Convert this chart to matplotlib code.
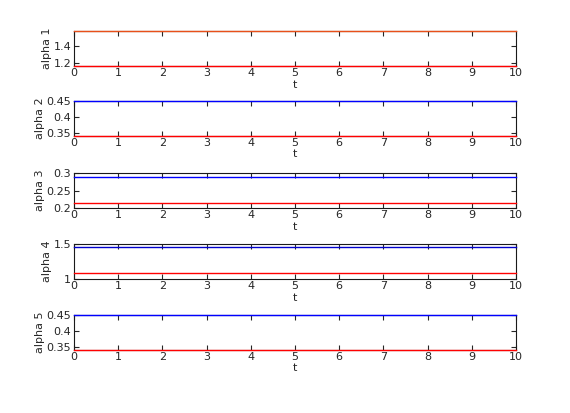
""" plot.py -- five stacked alpha(t) panels, MATLAB look """
import matplotlib
matplotlib.use("Agg")
import matplotlib.pyplot as plt

t = [0, 10]

# upper and lower level of every alpha, constant over t
alpha_upper = [1.57, 0.4488, 0.2884, 1.462, 0.4488]
alpha_lower = [1.17, 0.3425, 0.2157, 1.094, 0.3425]
upper_colors = ["#e8501a", "blue", "blue", "#0000cc", "blue"]

y_limits = [(1.17, 1.57), (0.3425, 0.4488), (0.2, 0.3), (1.0, 1.5), (0.3425, 0.4488)]
y_ticks = [[1.2, 1.4], [0.35, 0.4, 0.45], [0.2, 0.25, 0.3], [1, 1.5], [0.35, 0.4, 0.45]]
y_ticklabels = [["1.2", "1.4"], ["0.35", "0.4", "0.45"], ["0.2", "0.25", "0.3"],
                ["1", "1.5"], ["0.35", "0.4", "0.45"]]
x_ticks = list(range(0, 11))

fig = plt.figure(figsize=(5.7, 4.13), dpi=100)
bottoms = [0.840, 0.671, 0.496, 0.324, 0.153]
txt = "#262626"

for i in range(5):
    ax = fig.add_axes([0.130, bottoms[i], 0.775, 0.085])
    ax.plot(t, [alpha_upper[i]] * 2, color=upper_colors[i], lw=1.0,
            clip_on=False, zorder=3)
    ax.plot(t, [alpha_lower[i]] * 2, color="red", lw=1.0,
            clip_on=False, zorder=3)
    ax.set_xlim(0, 10)
    ax.set_ylim(*y_limits[i])
    ax.set_xticks(x_ticks)
    ax.set_yticks(y_ticks[i])
    ax.set_yticklabels(y_ticklabels[i])
    ax.tick_params(direction="in", top=True, right=True, length=3.5, width=0.8,
                   labelsize=8, colors=txt, pad=2)
    ax.tick_params(axis="x", pad=1.5)
    for sp in ax.spines.values():
        sp.set_linewidth(0.8)
        sp.set_color("#1a1a1a")
    ax.set_xlabel("t", fontsize=8, color=txt, labelpad=1)
    ax.set_ylabel("alpha %d" % (i + 1), fontsize=8, color=txt, labelpad=1)

plt.savefig("out.png", dpi=100)
